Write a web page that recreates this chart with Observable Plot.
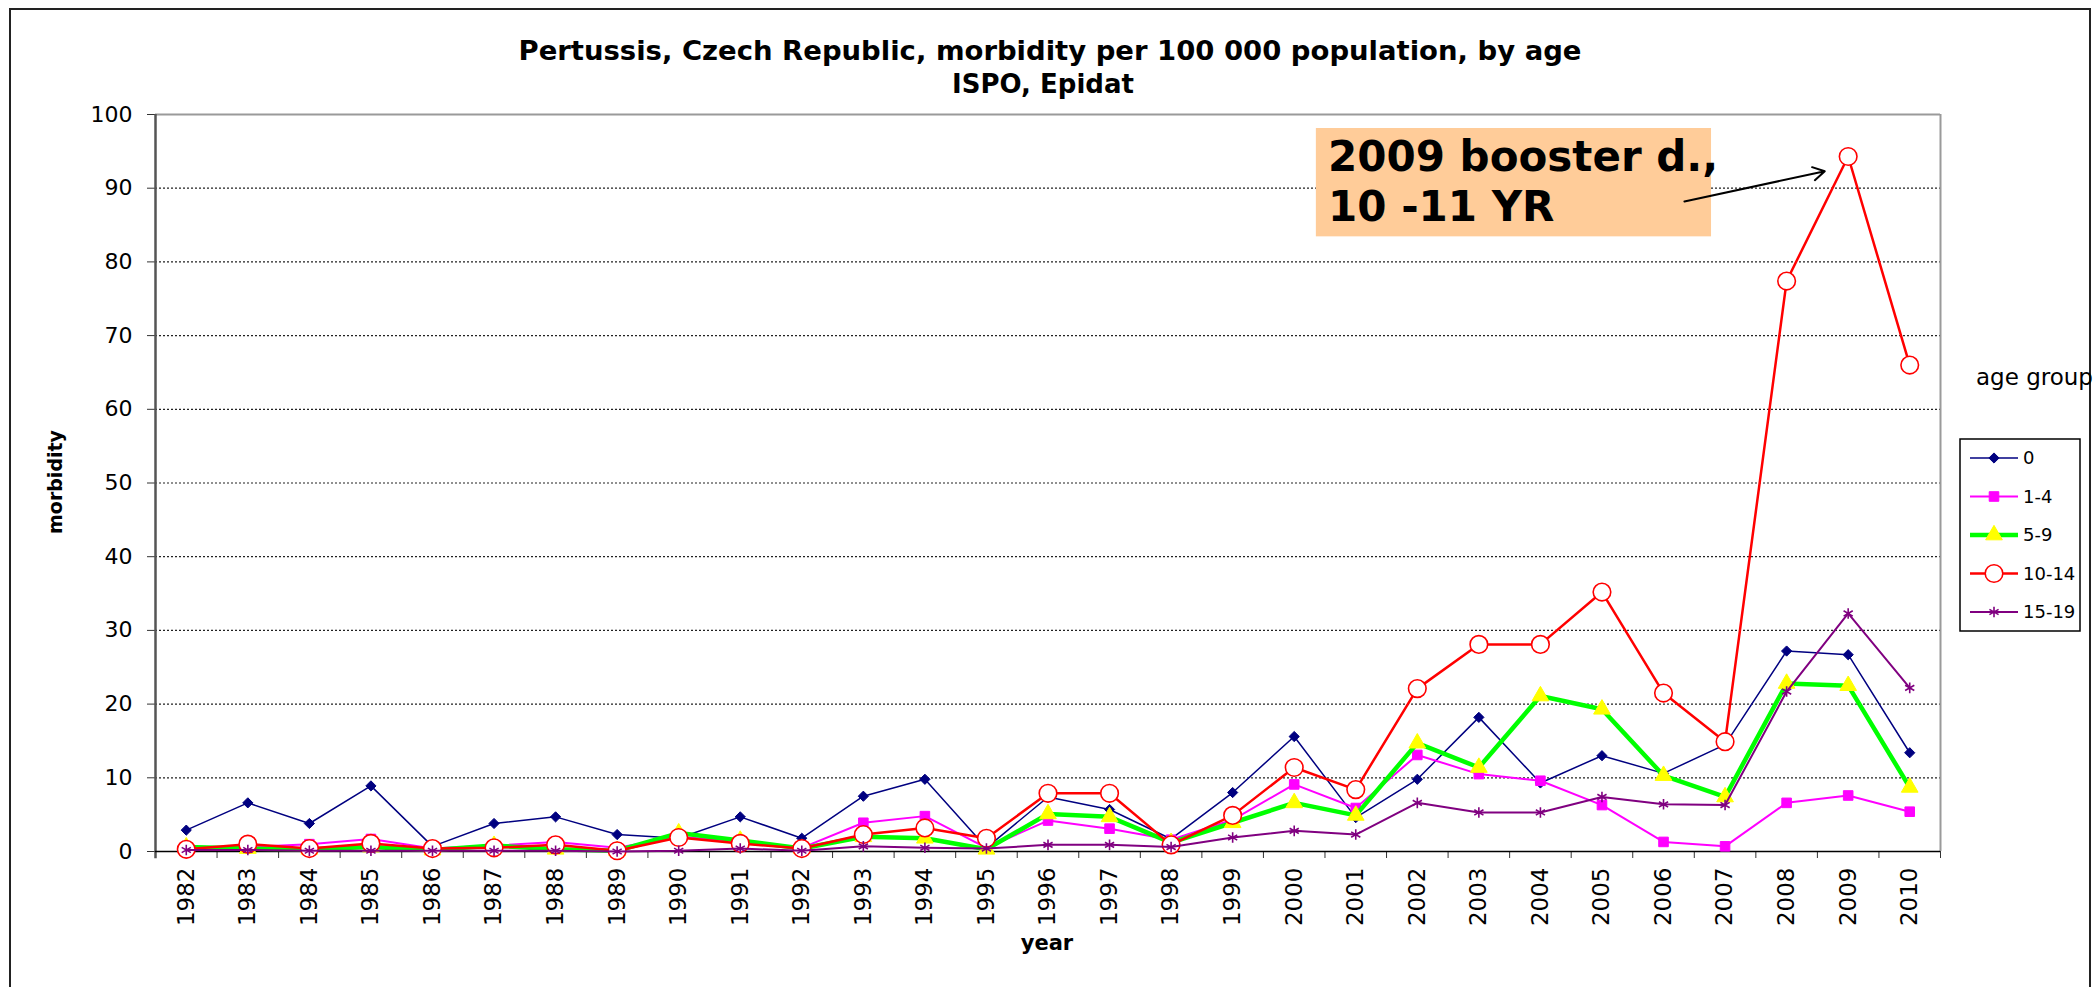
<!DOCTYPE html>
<html><head><meta charset="utf-8">
<script src="https://cdn.jsdelivr.net/npm/d3@7"></script>
<script src="https://cdn.jsdelivr.net/npm/@observablehq/plot@0.6"></script>
<style>body{margin:0;background:#fff;} #chart svg{display:block;}</style>
</head><body><div id="chart"></div>
<script>
const years = [1982,1983,1984,1985,1986,1987,1988,1989,1990,1991,1992,1993,1994,1995,1996,1997,1998,1999,2000,2001,2002,2003,2004,2005,2006,2007,2008,2009,2010];
const groups = ["0","1-4","5-9","10-14","15-19"];
const age0     = [2.9,6.6,3.8,8.9,0.7,3.8,4.7,2.3,1.8,4.7,1.8,7.5,9.8,0.5,7.4,5.7,1.7,8.0,15.6,4.6,9.8,18.2,9.3,13.0,10.6,14.5,27.2,26.7,13.4];
const age1_4   = [0.3,0.6,1.0,1.7,0.4,0.8,1.3,0.5,2.0,1.4,0.5,3.9,4.8,0.5,4.2,3.1,1.6,4.3,9.1,5.9,13.1,10.5,9.6,6.3,1.3,0.7,6.6,7.6,5.4];
const age5_9   = [0.6,0.4,0.3,0.6,0.2,0.8,0.3,0.1,2.5,1.5,0.4,2.0,1.8,0.3,5.1,4.7,1.2,3.9,6.6,4.9,14.7,11.4,21.1,19.3,10.3,7.4,22.8,22.5,8.7];
const age10_14 = [0.3,1.0,0.4,1.1,0.4,0.5,0.9,0.1,1.9,1.1,0.4,2.3,3.2,1.8,7.9,7.9,0.9,4.9,11.4,8.4,22.1,28.1,28.1,35.2,21.5,14.9,77.4,94.3,66.0];
const age15_19 = [0.2,0.2,0.1,0.1,0.1,0.1,0.1,0.0,0.1,0.4,0.1,0.7,0.5,0.4,0.9,0.9,0.6,1.9,2.8,2.3,6.6,5.3,5.3,7.4,6.4,6.3,21.7,32.3,22.2];
const yTicks = [0,10,20,30,40,50,60,70,80,90,100];
const titleText = "Pertussis, Czech Republic, morbidity per 100 000 population, by age";
const subtitleText = "ISPO, Epidat";
const yLabel = "morbidity";
const xLabel = "year";
const legendTitle = "age group";
const annotationLines = ["2009 booster d.,", "10 -11 YR"];

const seriesValues = [age0, age1_4, age5_9, age10_14, age15_19];
const styles = [
  {line:"#000080", sw:1.5, symbol:"diamond2", r:4.6, fill:"#000080", stroke:"#000080", msw:1, d3sym:d3.symbolDiamond2},
  {line:"#FF00FF", sw:2, symbol:"square", r:5.4, fill:"#FF00FF", stroke:"#FF00FF", msw:1, d3sym:d3.symbolSquare},
  {line:"#00FF00", sw:4.5, symbol:"triangle", r:6.2, fill:"#FFFF00", stroke:"#FFFF00", msw:1, d3sym:d3.symbolTriangle},
  {line:"#FF0000", sw:2.5, symbol:"circle", r:8.8, fill:"#FFFFFF", stroke:"#FF0000", msw:1.6, d3sym:d3.symbolCircle},
  {line:"#800080", sw:2, symbol:"asterisk", r:5, fill:"none", stroke:"#800080", msw:1.6, d3sym:d3.symbolAsterisk}
];
const rows = groups.map((g,i)=> years.map((yr,j)=>({group:g, year:yr, value:seriesValues[i][j]})));
const boundaries = years.map(y=>y-0.5).concat([years[years.length-1]+0.5]);

const font = "'DejaVu Sans', sans-serif";
const marks = [
  Plot.ruleY(yTicks.filter(v=>v>0 && v<100), {stroke:"#222", strokeDasharray:"2,2", strokeWidth:1.2}),
  Plot.ruleY([100], {stroke:"#9a9a9a", strokeWidth:2}),
  Plot.ruleX([2010.5], {y1:0, y2:100, stroke:"#9a9a9a", strokeWidth:2}),
  Plot.rect([0], {x1:2000.36, x2:2006.78, y1:83.4, y2:98.1, fill:"#FFCC99"}),
  Plot.text([annotationLines[0]], {x:2000.55, y:92.3, text:d=>d, textAnchor:"start", lineAnchor:"bottom", fontSize:42, fontWeight:"bold", fill:"#000"}),
  Plot.text([annotationLines[1]], {x:2000.55, y:85.5, text:d=>d, textAnchor:"start", lineAnchor:"bottom", fontSize:42, fontWeight:"bold", fill:"#000"}),
  Plot.arrow([0], {x1:2006.34, y1:88.2, x2:2008.62, y2:92.3, stroke:"#000", strokeWidth:2, headLength:10}),
  Plot.axisY({ticks:yTicks, tickSize:8, tickPadding:15, fontSize:22, label:null, tickFormat:d=>String(d), stroke:"#333"}),
  Plot.axisX({ticks:years, tickSize:0, tickPadding:16, tickRotate:-90, tickFormat:d=>String(d), fontSize:23, label:null}),
  Plot.axisX({ticks:boundaries, tickSize:7, tickFormat:()=>"", label:null, stroke:"#333"}),
  Plot.ruleX([1981.5], {y1:-1, y2:100, stroke:"#555", strokeWidth:2.5}),
  Plot.ruleY([0], {stroke:"#000", strokeWidth:1.5})
];
rows.forEach((data,i)=>{
  const s = styles[i];
  marks.push(Plot.line(data, {x:"year", y:"value", stroke:s.line, strokeWidth:s.sw}));
  marks.push(Plot.dot(data, {x:"year", y:"value", symbol:s.symbol, r:s.r, fill:s.fill, stroke:s.stroke, strokeWidth:s.msw}));
});

const W = 2095, H = 987;
const chart = Plot.plot({
  width:W, height:H,
  marginLeft:155, marginRight:155, marginTop:114, marginBottom:136,
  style:{fontFamily:font, color:"#000", background:"#fff", overflow:"visible"},
  x:{domain:[1981.5,2010.5]},
  y:{domain:[0,100]},
  marks
});
document.getElementById("chart").appendChild(chart);

const svg = d3.select(chart);
// outer frame
svg.append("rect").attr("x",10).attr("y",9).attr("width",2080).attr("height",1000)
  .attr("fill","none").attr("stroke","#222").attr("stroke-width",2);
// titles
svg.append("text").attr("x",1050).attr("y",60).attr("text-anchor","middle")
  .attr("font-family",font).attr("font-weight","bold").attr("font-size",26)
  .attr("textLength",1063).attr("lengthAdjust","spacingAndGlyphs").text(titleText);
svg.append("text").attr("x",1043).attr("y",93).attr("text-anchor","middle")
  .attr("font-family",font).attr("font-weight","bold").attr("font-size",26).text(subtitleText);
// axis labels
svg.append("text").attr("transform","translate(62,482) rotate(-90)").attr("text-anchor","middle")
  .attr("font-family",font).attr("font-weight","bold").attr("font-size",19).text(yLabel);
svg.append("text").attr("x",1047).attr("y",950).attr("text-anchor","middle")
  .attr("font-family",font).attr("font-weight","bold").attr("font-size",21).text(xLabel);
// legend
svg.append("text").attr("x",1976).attr("y",385).attr("text-anchor","start")
  .attr("font-family",font).attr("font-size",23).text(legendTitle);
svg.append("rect").attr("x",1960).attr("y",439).attr("width",120).attr("height",192)
  .attr("fill","#fff").attr("stroke","#000").attr("stroke-width",1.5);
groups.forEach((g,i)=>{
  const s = styles[i];
  const y = 458 + i*38.5;
  svg.append("line").attr("x1",1970).attr("x2",2018).attr("y1",y).attr("y2",y)
    .attr("stroke",s.line).attr("stroke-width",s.sw);
  svg.append("path").attr("transform",`translate(1994,${y})`)
    .attr("d", d3.symbol(s.d3sym, Math.PI*s.r*s.r)())
    .attr("fill",s.fill).attr("stroke",s.stroke).attr("stroke-width",s.msw);
  svg.append("text").attr("x",2023).attr("y",y).attr("dy","0.35em").attr("text-anchor","start")
    .attr("font-family",font).attr("font-size",18).text(g);
});
</script>
</body></html>
